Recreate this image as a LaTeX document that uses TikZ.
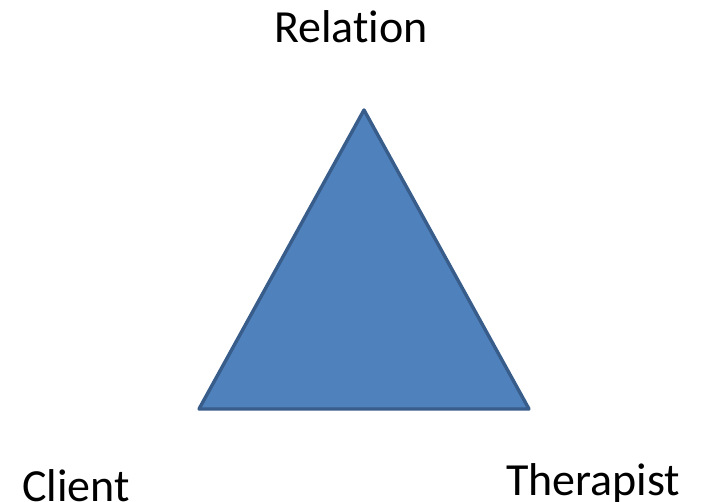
\documentclass[tikz,border=0pt]{standalone}
\usepackage{fontspec}
\setmainfont{Carlito}[Ligatures={NoCommon}]
\begin{document}
\begin{tikzpicture}[x=1pt,y=-1pt,
  lbl/.style={inner sep=0pt,font=\fontsize{46}{50}\selectfont,text=black},
  tri/.style={fill=triFill,draw=triLine,line width=3.4pt,line join=round}]
\definecolor{triFill}{HTML}{4F81BD}
\definecolor{triLine}{HTML}{385D8A}
\useasboundingbox[fill=white] (0,0) rectangle (704,502);
\coordinate (top) at (364,110);
\coordinate (bl) at (199,409);
\coordinate (br) at (529,409);
\draw[tri] (top) -- (br) -- (bl) -- cycle;
\node[lbl,anchor=base] (relation) at (351,43) {Relation};
\node[lbl,anchor=base west] (client) at (22,501) {Client};
\node[lbl,anchor=base west] (therapist) at (506,495) {Therapist};
\end{tikzpicture}
\end{document}
